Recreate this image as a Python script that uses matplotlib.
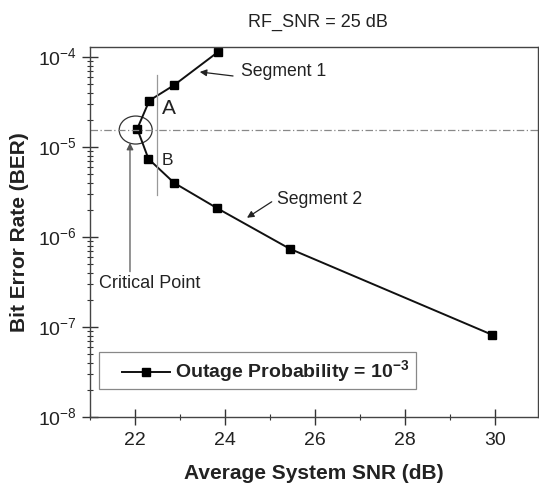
import matplotlib
matplotlib.use("Agg")
import matplotlib.pyplot as plt
from matplotlib.patches import Ellipse, Rectangle
from matplotlib.ticker import LogLocator, FixedLocator, NullFormatter

plt.rcParams['font.family'] = ['Liberation Sans', 'DejaVu Sans']
plt.rcParams['mathtext.fontset'] = 'custom'
plt.rcParams['mathtext.rm'] = 'Liberation Sans'
plt.rcParams['mathtext.bf'] = 'Liberation Sans:bold'

# Data
snr = [23.85, 22.87, 22.32, 22.05, 22.30, 22.87, 23.82, 25.44, 29.93]
ber = [1.15e-4, 4.9e-5, 3.3e-5, 1.6e-5, 7.4e-6, 4.0e-6, 2.1e-6, 7.4e-7, 8.2e-8]
series_label = r'Outage Probability = 10$^{\mathbf{-3}}$'
threshold_ber = 1.56e-5
divider_x = 22.5
divider_ber = [2.95e-6, 6.35e-5]
xticks = [22, 24, 26, 28, 30]
yticks = [1e-8, 1e-7, 1e-6, 1e-5, 1e-4]
ytick_labels = [r'10$^{-8}$', r'10$^{-7}$', r'10$^{-6}$', r'10$^{-5}$', r'10$^{-4}$']

W, H = 539, 484
fig = plt.figure(figsize=(W / 100, H / 100), dpi=100)
L, R, T, B = 90, 538, 47.3, 416.7
ax = fig.add_axes([L / W, 1 - B / H, (R - L) / W, (B - T) / H])

ax.set_yscale('log')
ax.set_xlim(21, 30.96)
ax.set_ylim(1e-8, 10 ** (-4 + 10 / 90))

txt = '#222222'
ax.plot(snr, ber, color='#111111', lw=1.4, marker='s', ms=5.4, mfc='black', mec='black',
        label=series_label)
ax.axhline(threshold_ber, color='#888888', lw=0.9, ls=(0, (6, 2, 1, 2)))
ax.plot([divider_x, divider_x], divider_ber, color='#999999', lw=0.9)

# ticks
ax.set_xticks(xticks)
ax.xaxis.set_minor_locator(FixedLocator([21, 23, 25, 27, 29]))
ax.set_yticks(yticks)
ax.set_yticklabels(ytick_labels)
ax.yaxis.set_minor_locator(LogLocator(base=10, subs=range(2, 10), numticks=20))
ax.yaxis.set_minor_formatter(NullFormatter())
ax.tick_params(which='major', direction='inout', length=12, width=1.0, color='#333333',
               labelsize=14, labelcolor=txt, top=False, right=False)
ax.tick_params(which='minor', direction='inout', length=5, width=0.8, color='#333333',
               top=False, right=False)
ax.tick_params(axis='x', which='major', pad=5)
ax.tick_params(axis='y', which='major', pad=3.5)
for s in ax.spines.values():
    s.set_color('#444444')
    s.set_linewidth(1.0)

ax.set_xlabel('Average System SNR (dB)', fontsize=15, fontweight='bold', color=txt, labelpad=10.5)
ax.set_ylabel('Bit Error Rate (BER)', fontsize=15, fontweight='bold', color=txt, labelpad=6)
fig.text(318 / W, 1 - 22 / H, 'RF_SNR = 25 dB', ha='center', va='center', fontsize=13, color=txt)

# annotations
ax.text(22.6, 10 ** (-4.574), 'A', fontsize=15, color=txt, ha='left', va='center')
ax.text(22.6, 10 ** (-5.152), 'B', fontsize=12.5, color=txt, ha='left', va='center')

arrow_dark = dict(arrowstyle='-|>', color='#222222', lw=0.9, mutation_scale=10, shrinkA=0, shrinkB=0)
ax.annotate('', xy=(23.44, 10 ** (-4.163)), xytext=(24.18, 10 ** (-4.208)), arrowprops=arrow_dark)
ax.text(24.36, 10 ** (-4.163), 'Segment 1', fontsize=12.7, color=txt, ha='left', va='center')
ax.annotate('', xy=(24.49, 10 ** (-5.786)), xytext=(25.04, 10 ** (-5.608)), arrowprops=arrow_dark)
ax.text(25.15, 10 ** (-5.585), 'Segment 2', fontsize=12.7, color=txt, ha='left', va='center')
ax.annotate('', xy=(21.889, 10 ** (-4.952)), xytext=(21.889, 10 ** (-6.386)),
            arrowprops=dict(arrowstyle='-|>', color='#555555', lw=0.9, mutation_scale=10,
                            shrinkA=0, shrinkB=0))
ax.text(21.2, 10 ** (-6.519), 'Critical Point', fontsize=13, color=txt, ha='left', va='center')

ell = Ellipse((0.102, 0.776), 0.0737, 0.0758, transform=ax.transAxes, fill=False,
              edgecolor='#333333', lw=0.9)
ax.add_patch(ell)

# legend box drawn separately
ax.add_patch(Rectangle((9 / 448, (416.7 - 389) / 369.4), 317 / 448, 37 / 369.4,
                       transform=ax.transAxes, fill=True, facecolor='white',
                       edgecolor='#888888', lw=0.9, zorder=4))
leg = ax.legend(loc='center left', bbox_to_anchor=(32 / 448, (416.7 - 372) / 369.4),
                frameon=False, handlelength=2.45, handletextpad=0.3,
                borderpad=0, borderaxespad=0, prop={'weight': 'bold', 'size': 14})
leg.set_zorder(5)
for t in leg.get_texts():
    t.set_color(txt)

fig.savefig('out.png', dpi=100)
